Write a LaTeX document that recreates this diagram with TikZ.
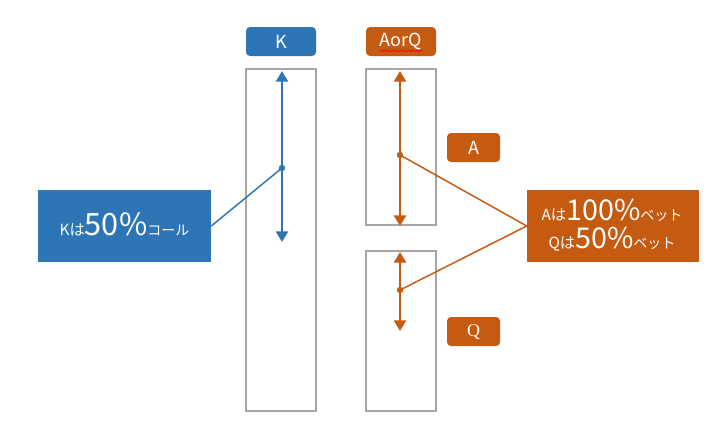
\documentclass[tikz,border=0pt]{standalone}
\usepackage{fontspec}
\setmainfont{Noto Sans CJK JP}
\newfontfamily\serifq{Liberation Serif}
\usetikzlibrary{arrows.meta,decorations.pathmorphing}
\definecolor{kblue}{HTML}{2E75B6}
\definecolor{korange}{HTML}{C55A11}
\definecolor{kgray}{HTML}{A6A6A6}
\newcommand{\smalltxt}{\fontsize{11.5}{13}\selectfont}
\newcommand{\bigtxt}{\fontsize{21.5}{24}\selectfont}
\newcommand{\katatxt}{\fontsize{10.5}{12}\selectfont}
\begin{document}
\begin{tikzpicture}[x=0.75pt,y=-0.75pt,
  frame/.style={draw=kgray,line width=1.5pt,inner sep=0pt},
  tag/.style={rounded corners=3pt,inner sep=0pt,text=white,font=\fontsize{13.5}{15}\selectfont},
  bigbox/.style={inner sep=0pt},
  boxtext/.style={inner sep=0pt,text=white,anchor=base},
  varr/.style={line width=1.9pt,{Triangle[width=9pt,length=8pt]}-{Triangle[width=9pt,length=8pt]}},
  link/.style={line width=1.1pt},
  dot/.style={circle,inner sep=0pt,minimum size=4.8pt}]
\useasboundingbox (0,0) rectangle (724,439);
% tags
\node[tag,fill=kblue,minimum width=52.5pt,minimum height=21.75pt] (ktag) at (281,41.5) {K};
\node[tag,fill=korange,minimum width=52.5pt,minimum height=21.75pt] (aqtag) at (401,41.5) {AorQ};
\node[tag,fill=korange,minimum width=39.75pt,minimum height=21.75pt] (atag) at (473.5,147.5) {A};
\node[tag,fill=korange,minimum width=39.75pt,minimum height=21.75pt] (qtag) at (473.5,331.5) {\serifq Q};
\draw[red,line width=0.5pt,decorate,decoration={snake,amplitude=0.7pt,segment length=3pt}]
  ([xshift=-16pt,yshift=-7pt]aqtag.center) -- ([xshift=16pt,yshift=-7pt]aqtag.center);
% frames
\node[frame,minimum width=52.5pt,minimum height=256.5pt] (lframe) at (281,240) {};
\node[frame,minimum width=52.5pt,minimum height=117pt] (rtframe) at (401,147) {};
\node[frame,minimum width=52.5pt,minimum height=120pt] (rbframe) at (401,331) {};
% arrow end points
\coordinate (kt) at (282,71);
\coordinate (kb) at (282,242);
\coordinate (at) at (400,71);
\coordinate (ab) at (400,226);
\coordinate (qt) at (400,252);
\coordinate (qb) at (400,331);
\draw[varr,draw=kblue,fill=kblue] (kt) -- (kb);
\draw[varr,draw=korange,fill=korange] (at) -- (ab);
\draw[varr,draw=korange,fill=korange] (qt) -- (qb);
% dots
\node[dot,fill=kblue] (kd) at (282,168) {};
\node[dot,fill=korange] (ad) at (400,155) {};
\node[dot,fill=korange] (qd) at (400,290) {};
% big boxes
\node[bigbox,fill=kblue,minimum width=129.75pt,minimum height=54pt] (kbox) at (124.5,226) {};
\node[boxtext] (ktext) at (124.5,235.5)
  {{\smalltxt Kは}{\fontsize{23}{25}\selectfont 50\%}{\katatxt コール}};
\node[bigbox,fill=korange,minimum width=129pt,minimum height=54pt] (obox) at (613,226) {};
\node[boxtext] (otext1) at (612,220)
  {{\smalltxt Aは}{\bigtxt 100\%}{\katatxt ベット}};
\node[boxtext] (otext2) at (612,248.5)
  {{\smalltxt Qは}{\bigtxt 50\%}{\katatxt ベット}};
% links
\draw[link,kblue] (kbox.east) -- (kd.center);
\draw[link,korange] (obox.west) -- (ad.center);
\draw[link,korange] (obox.west) -- (qd.center);
\end{tikzpicture}
\end{document}
